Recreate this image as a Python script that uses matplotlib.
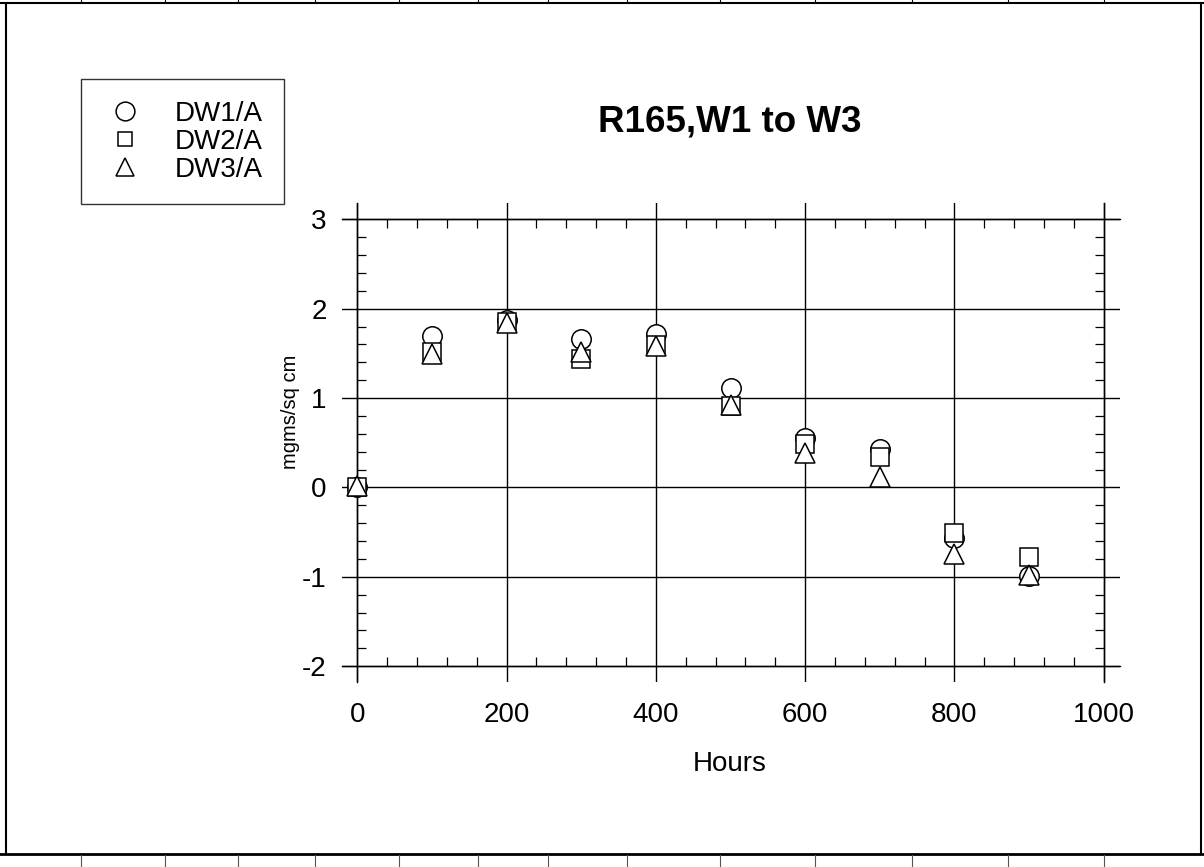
import matplotlib
matplotlib.use("Agg")
import matplotlib.pyplot as plt
from matplotlib.lines import Line2D
from matplotlib.ticker import MultipleLocator

plt.rcParams["font.family"] = ["Liberation Sans", "DejaVu Sans"]

# data
hours = [0, 100, 200, 300, 400, 500, 600, 700, 800, 900]
dw1 = [0.0, 1.69, 1.87, 1.66, 1.72, 1.11, 0.55, 0.43, -0.56, -0.99]
dw2 = [0.0, 1.52, 1.85, 1.44, 1.59, 0.91, 0.49, 0.34, -0.51, -0.78]
dw3 = [0.02, 1.49, 1.84, 1.52, 1.58, 0.92, 0.39, 0.12, -0.74, -0.98]
series_labels = ["DW1/A", "DW2/A", "DW3/A"]
x_ticks = [0, 200, 400, 600, 800, 1000]
y_ticks = [-2, -1, 0, 1, 2, 3]

W, H = 1204, 867
fig = plt.figure(figsize=(W / 100, H / 100), dpi=100)


def fx(px):
    return px / W


def fy(py):
    return 1 - py / H


# axes box covers the extended grid lines (SigmaPlot look)
ax = fig.add_axes([fx(341.5), fy(681.7), fx(1119.5) - fx(341.5), fy(203.3) - fy(681.7)])
ax.set_xlim(-21, 1021)
ax.set_ylim(-2.173, 3.179)

# spines sit on the data edges, grid lines run past them
ax.spines["bottom"].set_position(("data", -2))
ax.spines["top"].set_position(("data", 3))
ax.spines["left"].set_position(("data", 0))
ax.spines["right"].set_position(("data", 1000))
for s in ax.spines.values():
    s.set_linewidth(1.0)

ax.set_xticks(x_ticks)
ax.set_yticks(y_ticks)
ax.set_yticklabels([str(v) for v in y_ticks])
ax.xaxis.set_minor_locator(MultipleLocator(40))
ax.yaxis.set_minor_locator(MultipleLocator(0.2))
ax.tick_params(which="major", length=0, labelsize=20)
ax.tick_params(axis="x", which="major", pad=26)
ax.tick_params(axis="y", which="major", pad=22)
ax.tick_params(which="minor", direction="in", length=6.3, width=0.9,
               top=True, right=True, bottom=True, left=True)
ax.grid(which="major", color="black", linewidth=1.0)
ax.set_axisbelow(True)

mk = dict(linestyle="none", markerfacecolor="white", markeredgecolor="black",
          markeredgewidth=1.1, zorder=3)
ax.plot(hours, dw1, marker="o", markersize=14, **mk)
ax.plot(hours, dw2, marker="s", markersize=12.5, **mk)
ax.plot(hours, dw3, marker="^", markersize=14, **mk)

fig.text(fx(730), fy(122), "R165,W1 to W3", fontsize=26.5, fontweight="bold",
         ha="center", va="center")
fig.text(fx(730), fy(764), "Hours", fontsize=20, ha="center", va="center")
fig.text(fx(290), fy(412), "mgms/sq cm", fontsize=14.5, rotation=90,
         ha="center", va="center")

# legend symbols are drawn a little smaller than in the plot
handles = [
    Line2D([], [], marker="o", markersize=13.5, **mk),
    Line2D([], [], marker="s", markersize=10, **mk),
    Line2D([], [], marker="^", markersize=12.5, **mk),
]
leg = fig.legend(handles=handles, labels=series_labels, loc="upper left",
                 bbox_to_anchor=(fx(80.7), fy(79)), borderaxespad=0,
                 fontsize=20, frameon=True, fancybox=False, edgecolor="black",
                 borderpad=0.78, handlelength=1.65, handletextpad=0.95,
                 labelspacing=0.07)
leg.get_frame().set_linewidth(1.0)

# page frame and the cut-off table rows above and below
frame_kw = dict(color="black", linewidth=1.5, transform=fig.transFigure)
fig.add_artist(Line2D([fx(6), fx(6)], [fy(3), fy(853)], **frame_kw))
fig.add_artist(Line2D([fx(1201), fx(1201)], [fy(3), fy(853)], **frame_kw))
fig.add_artist(Line2D([0, 1], [fy(3), fy(3)], **frame_kw))
fig.add_artist(Line2D([0, 1], [fy(853.5), fy(853.5)], color="black", linewidth=2,
                      transform=fig.transFigure))
cells = [81, 165, 238, 315, 399, 478, 548, 627, 720, 815, 912, 1008, 1104]
for c in cells:
    fig.add_artist(Line2D([fx(c), fx(c)], [fy(0), fy(2)], color="black",
                          linewidth=0.8, transform=fig.transFigure))
    fig.add_artist(Line2D([fx(c), fx(c)], [fy(855), fy(867)], color="#555555",
                          linewidth=0.8, transform=fig.transFigure))

fig.savefig("out.png", dpi=100)
plt.close()
